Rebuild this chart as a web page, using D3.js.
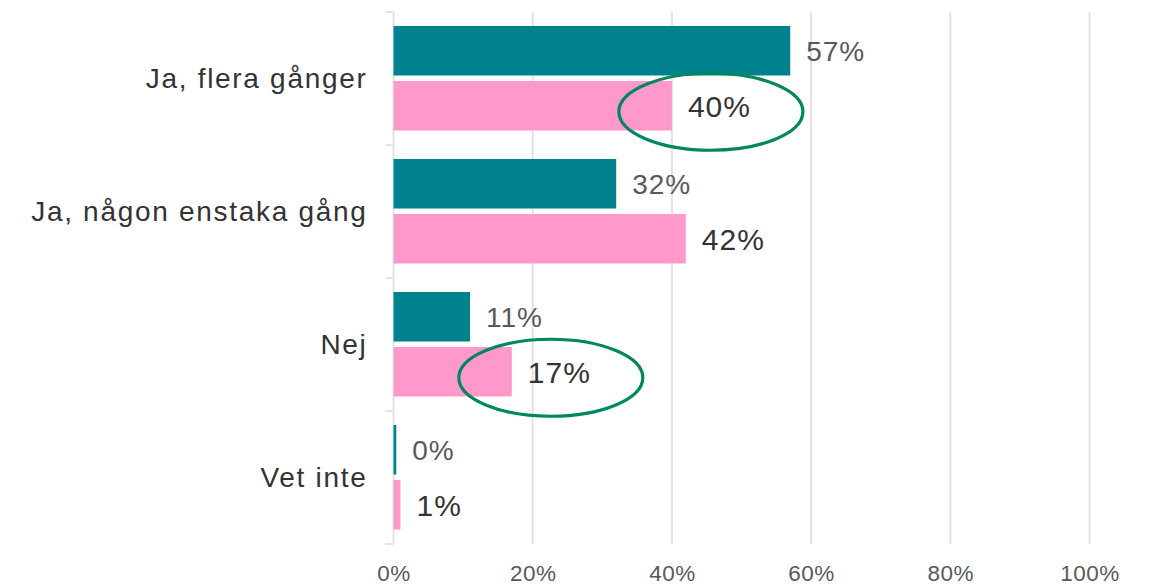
<!DOCTYPE html>
<html>
<head>
<meta charset="utf-8">
<script src="https://cdn.jsdelivr.net/npm/d3@7"></script>
<style>
  html, body { margin: 0; padding: 0; background: #fff; }
  svg { display: block; font-family: "Liberation Sans", Arial, sans-serif; }
</style>
</head>
<body>
<svg id="chart" width="1149" height="585"></svg>
<script>
// Survey answers, two groups compared per answer
const categories = ["Ja, flera gånger", "Ja, någon enstaka gång", "Nej", "Vet inte"];
const seriesKeys = ["teal", "pink"];
const tealValues = [0.57, 0.32, 0.11, 0.004];
const pinkValues = [0.40, 0.42, 0.17, 0.01];
const xTicks = [0, 0.2, 0.4, 0.6, 0.8, 1.0];
// Answers whose pink value is circled
const highlighted = ["Ja, flera gånger", "Nej"];

const colors = { teal: "#00818e", pink: "#ff99cc" };
const labelColors = { teal: "#595959", pink: "#333333" };
const labelSizes = { teal: 28, pink: 30 };

const svg = d3.select("#chart");

const x = d3.scaleLinear().domain([0, 1]).range([393.5, 1089.5]);
const y = d3.scaleBand().domain(categories).range([12, 544]).padding(0);
const ySub = d3.scaleBand().domain(seriesKeys)
  .range([14, y.bandwidth() - 14.5]).paddingInner(0.1);

const fmt = d3.format(".0%");

// vertical gridlines
svg.append("g")
  .selectAll("line")
  .data(xTicks.slice(1))
  .join("line")
  .attr("x1", d => x(d)).attr("x2", d => x(d))
  .attr("y1", 12).attr("y2", 544)
  .attr("stroke", "#e3e3e3").attr("stroke-width", 2);

// x axis labels
const xAxis = d3.axisBottom(x).tickValues(xTicks).tickFormat(fmt).tickSize(0).tickPadding(0);
const gx = svg.append("g").attr("transform", "translate(0,565)").call(xAxis);
gx.select(".domain").remove();
gx.selectAll("text")
  .attr("font-size", 22.5).attr("fill", "#595959")
  .attr("font-family", "Liberation Sans, Arial, sans-serif")
  .attr("letter-spacing", 0.5)
  .attr("dy", "0.7em");

// y axis: line plus boundary ticks between categories
const gy = svg.append("g");
gy.append("line")
  .attr("x1", x(0)).attr("x2", x(0))
  .attr("y1", y.range()[0]).attr("y2", y.range()[1])
  .attr("stroke", "#e3e3e3").attr("stroke-width", 2);
const bounds = categories.map(c => y(c)).concat([y.range()[1]]);
gy.selectAll("line.tick")
  .data(bounds)
  .join("line")
  .attr("class", "tick")
  .attr("x1", x(0) - 8).attr("x2", x(0))
  .attr("y1", d => d).attr("y2", d => d)
  .attr("stroke", "#e3e3e3").attr("stroke-width", 2);

// category labels
gy.selectAll("text")
  .data(categories)
  .join("text")
  .attr("x", x(0) - 26)
  .attr("y", d => y(d) + y.bandwidth() / 2)
  .attr("dy", "0.35em")
  .attr("text-anchor", "end")
  .attr("font-size", 28)
  .attr("letter-spacing", 1.7)
  .attr("fill", "#333333")
  .text(d => d);

// bars and value labels
const rows = categories.map((c, i) => ({
  cat: c,
  values: [{ key: "teal", v: tealValues[i] }, { key: "pink", v: pinkValues[i] }]
}));

const groups = svg.append("g")
  .selectAll("g")
  .data(rows)
  .join("g")
  .attr("transform", d => `translate(0,${y(d.cat)})`);

groups.selectAll("rect")
  .data(d => d.values)
  .join("rect")
  .attr("x", x(0))
  .attr("y", d => ySub(d.key))
  .attr("width", d => x(d.v) - x(0))
  .attr("height", ySub.bandwidth())
  .attr("fill", d => colors[d.key]);

groups.selectAll("text")
  .data(d => d.values)
  .join("text")
  .attr("x", d => x(d.v) + 16)
  .attr("y", d => ySub(d.key) + ySub.bandwidth() / 2)
  .attr("dy", "0.36em")
  .attr("font-size", d => labelSizes[d.key])
  .attr("letter-spacing", 1)
  .attr("fill", d => labelColors[d.key])
  .text(d => fmt(d.v));

// circled values
svg.append("g")
  .selectAll("ellipse")
  .data(highlighted)
  .join("ellipse")
  .attr("cx", d => x(pinkValues[categories.indexOf(d)]) + 39)
  .attr("cy", d => y(d) + ySub("pink") + ySub.bandwidth() / 2 + 6)
  .attr("rx", 92)
  .attr("ry", 38.5)
  .attr("fill", "none")
  .attr("stroke", "#00875f")
  .attr("stroke-width", 3.2);
</script>
</body>
</html>
